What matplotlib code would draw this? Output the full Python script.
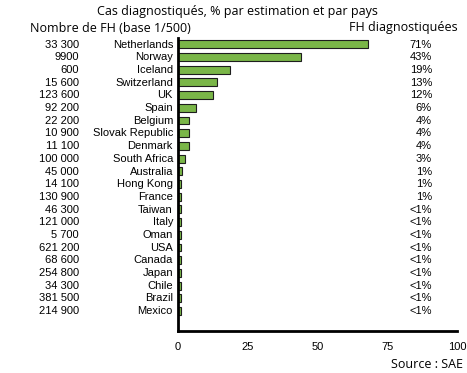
import matplotlib
matplotlib.use('Agg')
import matplotlib.pyplot as plt

countries = ['Netherlands', 'Norway', 'Iceland', 'Switzerland', 'UK', 'Spain',
             'Belgium', 'Slovak Republic', 'Denmark', 'South Africa', 'Australia',
             'Hong Kong', 'France', 'Taiwan', 'Italy', 'Oman', 'USA', 'Canada',
             'Japan', 'Chile', 'Brazil', 'Mexico']
fh_counts = ['33 300', '9900', '600', '15 600', '123 600', '92 200', '22 200',
             '10 900', '11 100', '100 000', '45 000', '14 100', '130 900', '46 300',
             '121 000', '5 700', '621 200', '68 600', '254 800', '34 300',
             '381 500', '214 900']
bar_values = [68, 44, 18.6, 13.9, 12.4, 6.3, 3.8, 4, 4, 2.6, 1.3, 1.2, 1.2, 1.1,
              1.1, 1.1, 1.0, 1.0, 1.0, 1.0, 1.0, 1.0]
pct_labels = ['71%', '43%', '19%', '13%', '12%', '6%', '4%', '4%', '4%', '3%',
              '1%', '1%', '1%', '<1%', '<1%', '<1%', '<1%', '<1%', '<1%', '<1%',
              '<1%', '<1%']
xticks = [0, 25, 50, 75, 100]

arial = 'Liberation Sans'
cal = 'Open Sans'

fig = plt.figure(figsize=(4.67, 3.73), dpi=100)
ax = fig.add_axes([0.381, 0.1134, 0.598, 0.785])

ypos = list(range(len(countries)))
ax.barh(ypos, bar_values, height=0.62, color='#7ab648', edgecolor='#1e1e1e', linewidth=0.8)
ax.set_xlim(0, 100)
ax.set_ylim(22.55, -0.5)

for s in ['top', 'right']:
    ax.spines[s].set_visible(False)
ax.spines['left'].set_linewidth(2)
ax.spines['bottom'].set_linewidth(2)
ax.set_yticks([])
ax.set_xticks(xticks)
ax.set_xticklabels([str(t) for t in xticks], fontfamily=arial, fontsize=8)
ax.tick_params(axis='x', length=0, pad=8)

# row labels placed in figure coords so they line up with the bars
for i, (c, n, p) in enumerate(zip(countries, fh_counts, pct_labels)):
    yf = 1 - (311 - (21 - i) * 12.68) / 373
    fig.text(173 / 467, yf, c, ha='right', va='center', fontfamily=arial, fontsize=8)
    fig.text(79 / 467, yf, n, ha='right', va='center', fontfamily=arial, fontsize=8)
    fig.text(432 / 467, yf, p, ha='right', va='center', fontfamily=arial, fontsize=8)

fig.text(237 / 467, 1 - 11 / 373, 'Cas diagnostiqués, % par estimation et par pays',
         ha='center', va='center', fontfamily=cal, fontsize=9)
fig.text(30 / 467, 1 - 28 / 373, 'Nombre de FH (base 1/500)', ha='left', va='center',
         fontfamily=cal, fontsize=9)
fig.text(458 / 467, 1 - 28 / 373, 'FH diagnostiquées', ha='right', va='center',
         fontfamily=cal, fontsize=9)
fig.text(463 / 467, 1 - 365 / 373, 'Source : SAE', ha='right', va='center',
         fontfamily=cal, fontsize=9)

fig.savefig('out.png', dpi=100)
